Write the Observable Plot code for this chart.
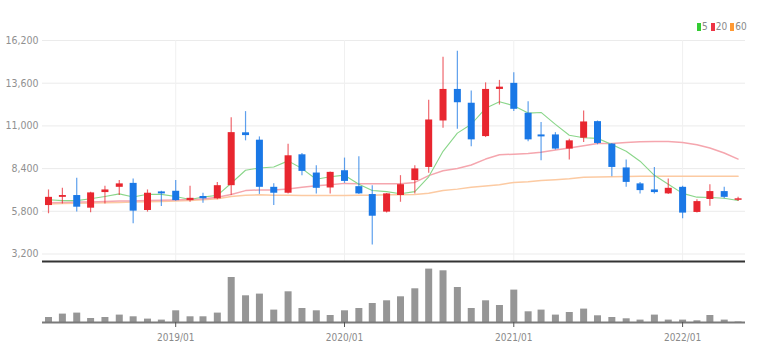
<!DOCTYPE html>
<html>
<head>
<meta charset="utf-8">
<script src="https://cdn.jsdelivr.net/npm/d3@7"></script>
<script src="https://cdn.jsdelivr.net/npm/@observablehq/plot@0.6"></script>
<style>
  html, body { margin: 0; padding: 0; background: #fff; }
  #wrap { position: relative; width: 762px; height: 362px; overflow: hidden; }
  #price, #vol { position: absolute; left: 0; }
  #price { top: 0; }
  #vol { top: 262px; }
  #legend { position: absolute; top: 21px; left: 697px; font: 10px "Liberation Sans Narrow", "DejaVu Sans Condensed", sans-serif; color: #8a8a8a; white-space: nowrap; }
  #legend span.sw { display: inline-block; width: 4px; height: 8px; margin-right: 1px; vertical-align: -1px; }
  #legend span.it { margin-right: 3px; }
</style>
</head>
<body>
<div id="wrap">
  <div id="price"></div>
  <div id="vol"></div>
  <div id="legend"></div>
</div>
<script>
// ---- data (monthly candles) ----
const months = ["2018/04","2018/05","2018/06","2018/07","2018/08","2018/09","2018/10","2018/11","2018/12",
  "2019/01","2019/02","2019/03","2019/04","2019/05","2019/06","2019/07","2019/08","2019/09","2019/10","2019/11","2019/12",
  "2020/01","2020/02","2020/03","2020/04","2020/05","2020/06","2020/07","2020/08","2020/09","2020/10","2020/11","2020/12",
  "2021/01","2021/02","2021/03","2021/04","2021/05","2021/06","2021/07","2021/08","2021/09","2021/10","2021/11","2021/12",
  "2022/01","2022/02","2022/03","2022/04","2022/05"];
const open  = [6150,6650,6760,5990,6940,7260,7500,5850,6980, 7020,6450,6700,6560,7360,10580,10130,7260,6900,9240,8130,7220,
  8270,7300,6820,5750,6760,7670,8470,11300,13220,12380,10350,13220, 13590,11770,10450,10450,9590,10250,11260,9890,8440,7470,7100,6860,
  7260,5730,6520,7000,6470];
const high  = [7100,7200,7810,6960,7320,7670,7770,7100,7020, 7670,7320,6900,7560,11500,11870,10330,7470,9890,9320,8580,8200,
  9040,9120,7360,6880,7970,8580,12560,15180,15550,13120,13620,13770, 14230,12470,11200,10590,10190,11910,11300,9930,8920,7560,8470,7770,
  7320,6500,7420,7260,6650];
const low   = [5650,6250,5750,5710,6250,6760,5040,5750,6090, 6410,6350,6290,6500,6760,10090,6830,6150,6860,7970,6860,6860,
  7500,6820,3750,5690,6350,6860,8110,10860,10800,9730,10290,12270, 11870,10030,8880,9530,8920,9990,9850,7910,7260,6860,6860,6820,
  5350,5690,6110,6560,6400];
const close = [6650,6760,6050,6920,7100,7470,5810,6900,6860, 6450,6590,6560,7360,10590,10410,7260,6900,9180,8230,7200,8170,
  7620,6860,5500,6860,7420,8380,11360,13220,12410,10150,13220,13360, 12010,10150,10330,9590,10090,11240,9930,8470,7560,7060,6940,7200,
  5690,6390,7000,6650,6560];
const ma5   = [6500,6450,6450,6560,6700,6860,6670,6840,6830, 6700,6520,6670,6770,7510,8300,8440,8500,8870,8400,7750,7900,
  8000,7450,7070,7000,6870,7000,7900,9450,10560,11100,12070,12470, 12230,11780,11820,11090,10430,10280,10240,9860,9460,8850,7990,7450,
  6890,6660,6640,6590,6460];
const ma20  = [6320,6340,6360,6370,6400,6420,6430,6450,6470, 6490,6520,6550,6650,6820,7060,7100,7100,7160,7260,7360,7420,
  7500,7470,7470,7470,7470,7560,7970,8270,8410,8620,8980,9240, 9280,9320,9400,9530,9650,9790,9930,9930,9990,10030,10050,10050,
  9990,9850,9650,9350,8980];
const ma60  = [6250,6270,6290,6300,6320,6340,6360,6380,6400, 6420,6450,6500,6560,6700,6780,6800,6780,6770,6760,6760,6760,
  6760,6770,6780,6800,6810,6830,6900,7060,7150,7260,7340,7420, 7560,7600,7670,7720,7780,7870,7890,7910,7920,7930,7930,7930,
  7930,7930,7930,7930,7930];
const volume = [5,8.4,9.4,4,5,7.4,5.7,3.4,2.4, 11.7,5.7,5.7,9.4,45,26.7,28.4,12.4,30.7,14,11.7,7,
  11.7,14,19,21.7,25.7,33.7,53.4,51.7,35,14,21.7,17, 32.4,10.7,12.4,7.4,10,13.4,6.7,5,3.7,2.4,7.4,2.4,
  2.4,1.7,7,2.4,0.5];
const yTicks = [3200,5800,8400,11000,13600,16200];
const xTicks = ["2019/01","2020/01","2021/01","2022/01"];
const legendItems = [{label:"5", color:"#33cc33"},{label:"20", color:"#ee3344"},{label:"60", color:"#ff9933"}];

// ---- build ----
const toDate = s => { const [y,m] = s.split("/").map(Number); return new Date(Date.UTC(y, m-1, 1)); };
const data = months.map((m,i) => ({date: toDate(m), open: open[i], high: high[i], low: low[i], close: close[i],
  ma5: ma5[i], ma20: ma20[i], ma60: ma60[i], volume: volume[i]}));
const up = data.filter(d => d.close >= d.open);
const down = data.filter(d => d.close < d.open);
const xTickDates = xTicks.map(toDate);
const xDomain = [new Date(Date.UTC(2018,2,19)), new Date(Date.UTC(2022,4,17))];
const yMin = 2743, yMax = 16200;
const font = '"Liberation Sans Narrow", "DejaVu Sans Condensed", sans-serif';
const RED = "#e8262f", BLUE = "#1a78e6";

const price = Plot.plot({
  width: 762, height: 262,
  marginLeft: 42, marginRight: 17, marginTop: 40, marginBottom: 1,
  style: {fontFamily: font, background: "transparent", overflow: "visible"},
  x: {type: "utc", domain: xDomain, axis: null},
  y: {domain: [yMin, yMax], axis: null},
  marks: [
    Plot.ruleY(yTicks, {stroke: "#ebebeb"}),
    Plot.ruleX(xTickDates, {y1: yMin, y2: yMax, stroke: "#f0f0f0"}),
    Plot.axisY(yTicks, {tickSize: 0, tickPadding: 4, tickFormat: d3.format(","), fontSize: 10.5, fill: "#909090", label: null}),
    Plot.line(data, {x: "date", y: "ma60", stroke: "#fccaa2", strokeWidth: 1.5}),
    Plot.line(data, {x: "date", y: "ma20", stroke: "#f5a6ae", strokeWidth: 1.5}),
    Plot.line(data, {x: "date", y: "ma5", stroke: "#8ad68a", strokeWidth: 1.1}),
    Plot.ruleX(up, {x: "date", y1: "low", y2: "high", stroke: RED, strokeOpacity: 0.7, strokeWidth: 1.2}),
    Plot.ruleX(down, {x: "date", y1: "low", y2: "high", stroke: BLUE, strokeOpacity: 0.7, strokeWidth: 1.2}),
    Plot.ruleX(up, {x: "date", y1: "open", y2: "close", stroke: RED, strokeWidth: 7}),
    Plot.ruleX(down, {x: "date", y1: "open", y2: "close", stroke: BLUE, strokeWidth: 7}),
    Plot.ruleY([yMin], {stroke: "#333", strokeWidth: 2})
  ]
});
document.getElementById("price").appendChild(price);

const vol = Plot.plot({
  width: 762, height: 100,
  marginLeft: 42, marginRight: 17, marginTop: 2, marginBottom: 40,
  style: {fontFamily: font, background: "transparent", overflow: "visible"},
  x: {type: "utc", domain: xDomain, axis: null},
  y: {domain: [0, 58], axis: null},
  marks: [
    Plot.ruleX(data, {x: "date", y1: 0, y2: "volume", stroke: "#969696", strokeWidth: 7}),
    Plot.ruleY([0], {stroke: "#7a7a7a", strokeWidth: 2}),
    Plot.axisX(xTickDates, {tickSize: 5, tickPadding: 6, stroke: "#555", fill: "#8a8a8a", fontSize: 10,
      tickFormat: d3.utcFormat("%Y/%m"), label: null})
  ]
});
document.getElementById("vol").appendChild(vol);

const lg = document.getElementById("legend");
legendItems.forEach(it => {
  const s = document.createElement("span"); s.className = "sw"; s.style.background = it.color; lg.appendChild(s);
  const t = document.createElement("span"); t.className = "it"; t.textContent = it.label; lg.appendChild(t);
});
</script>
</body>
</html>
